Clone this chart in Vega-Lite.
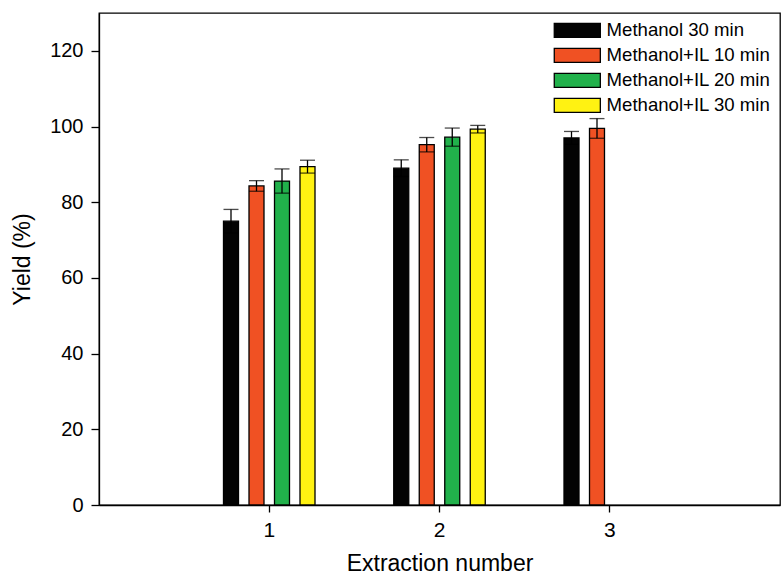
{
  "$schema": "https://vega.github.io/schema/vega-lite/v6.json",
  "width": 681,
  "height": 492,
  "autosize": {"type": "none"},
  "padding": {"left": 99, "top": 13, "right": 1, "bottom": 72},
  "background": "white",
  "config": {
    "font": "Liberation Sans",
    "view": {"stroke": "black", "strokeWidth": 1.3},
    "axis": {
      "domainColor": "black",
      "domainWidth": 1.3,
      "tickColor": "black",
      "tickWidth": 1.3,
      "tickSize": 8,
      "labelColor": "black",
      "titleColor": "black",
      "titleFontWeight": "normal",
      "grid": false,
      "labelFont": "Liberation Sans",
      "titleFont": "Liberation Sans"
    },
    "legend": {"labelFont": "Liberation Sans"}
  },
  "data": {
    "values": [
      {"ext": 1, "method": "Methanol 30 min", "yield": 75.0, "lo": 71.9, "hi": 78.1},
      {"ext": 1, "method": "Methanol+IL 10 min", "yield": 84.3, "lo": 82.9, "hi": 85.7},
      {"ext": 1, "method": "Methanol+IL 20 min", "yield": 85.6, "lo": 82.4, "hi": 88.8},
      {"ext": 1, "method": "Methanol+IL 30 min", "yield": 89.4, "lo": 87.7, "hi": 91.1},
      {"ext": 2, "method": "Methanol 30 min", "yield": 89.0, "lo": 86.8, "hi": 91.2},
      {"ext": 2, "method": "Methanol+IL 10 min", "yield": 95.2, "lo": 93.3, "hi": 97.1},
      {"ext": 2, "method": "Methanol+IL 20 min", "yield": 97.2, "lo": 94.8, "hi": 99.6},
      {"ext": 2, "method": "Methanol+IL 30 min", "yield": 99.3, "lo": 98.3, "hi": 100.3},
      {"ext": 3, "method": "Methanol 30 min", "yield": 97.0, "lo": 95.3, "hi": 98.7},
      {"ext": 3, "method": "Methanol+IL 10 min", "yield": 99.5, "lo": 96.9, "hi": 102.1}
    ]
  },
  "encoding": {
    "x": {
      "field": "ext",
      "type": "ordinal",
      "scale": {"paddingInner": 0.163, "paddingOuter": 0.5815},
      "axis": {
        "title": "Extraction number",
        "titleFontSize": 23,
        "titlePadding": 12,
        "labelFontSize": 21,
        "labelAngle": 0,
        "labelPadding": 7,
        "tickSize": 7
      }
    },
    "xOffset": {
      "field": "method",
      "type": "nominal",
      "scale": {
        "domain": ["Methanol 30 min", "Methanol+IL 10 min", "Methanol+IL 20 min", "Methanol+IL 30 min"],
        "paddingInner": 0.412,
        "paddingOuter": 1
      }
    }
  },
  "layer": [
    {
      "mark": {"type": "bar", "stroke": "black", "strokeWidth": 1.3},
      "encoding": {
        "y": {
          "field": "yield",
          "type": "quantitative",
          "scale": {"domain": [0, 130], "nice": false},
          "axis": {
            "title": "Yield (%)",
            "titleFontSize": 23,
            "titlePadding": 15,
            "labelFontSize": 20,
            "labelPadding": 8,
            "values": [0, 20, 40, 60, 80, 100, 120]
          }
        },
        "fill": {
          "field": "method",
          "type": "nominal",
          "scale": {
            "domain": ["Methanol 30 min", "Methanol+IL 10 min", "Methanol+IL 20 min", "Methanol+IL 30 min"],
            "range": ["#030303", "#F05123", "#21B14B", "#FFF212"]
          },
          "legend": {
            "title": null,
            "orient": "none",
            "legendX": 469,
            "legendY": 8,
            "padding": 0,
            "symbolType": "M-3.29,-1H3.29V1H-3.29Z",
            "symbolSize": 196,
            "symbolStrokeColor": "black",
            "symbolStrokeWidth": 1.3,
            "symbolOpacity": 1,
            "labelFontSize": 18.6,
            "labelColor": "black",
            "labelOffset": 20,
            "rowPadding": 5,
            "labelLimit": 300
          }
        }
      }
    },
    {
      "mark": {"type": "rule", "color": "black", "strokeWidth": 1.3},
      "encoding": {
        "y": {"field": "lo", "type": "quantitative"},
        "y2": {"field": "hi"}
      }
    },
    {
      "mark": {"type": "tick", "color": "black", "size": 15, "thickness": 1.3, "orient": "horizontal"},
      "encoding": {
        "y": {"field": "hi", "type": "quantitative"}
      }
    },
    {
      "mark": {"type": "tick", "color": "black", "size": 15, "thickness": 1.3, "orient": "horizontal"},
      "encoding": {
        "y": {"field": "lo", "type": "quantitative"}
      }
    }
  ]
}
